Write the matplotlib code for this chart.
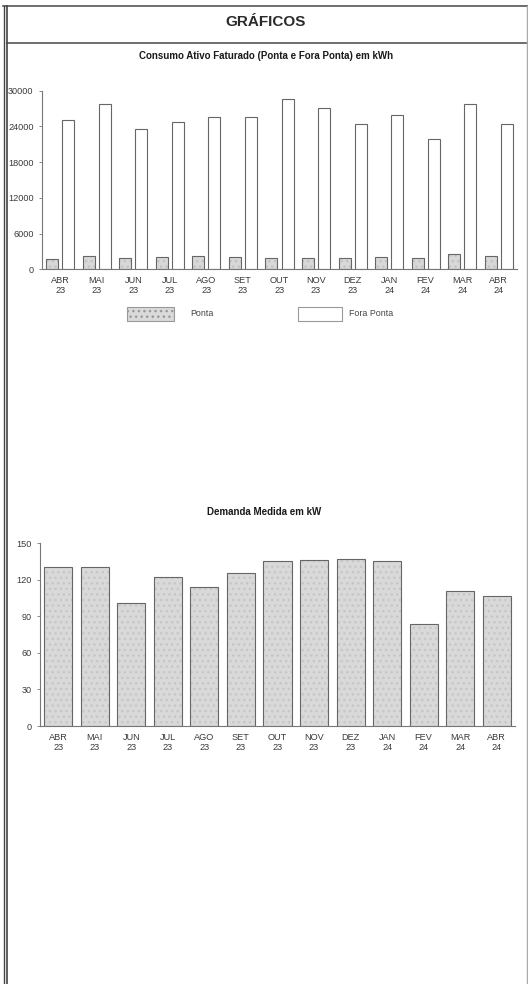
import matplotlib
matplotlib.use("Agg")
import matplotlib.pyplot as plt
from matplotlib.patches import Rectangle
from matplotlib.lines import Line2D
import numpy as np

plt.rcParams['font.family'] = ['Liberation Sans', 'DejaVu Sans']

months = ["ABR\n23", "MAI\n23", "JUN\n23", "JUL\n23", "AGO\n23", "SET\n23", "OUT\n23",
          "NOV\n23", "DEZ\n23", "JAN\n24", "FEV\n24", "MAR\n24", "ABR\n24"]
ponta = [1780, 2290, 1900, 2020, 2240, 2070, 1950, 1950, 1850, 2120, 1900, 2620, 2290]
fora_ponta = [25100, 27700, 23500, 24800, 25650, 25500, 28550, 27150, 24400, 25900, 21850, 27700, 24400]
demanda = [130.8, 130.8, 100.7, 122.6, 114.4, 125.9, 135.7, 136.3, 137.4, 135.7, 83.7, 110.6, 106.7]
ticks_top = [0, 6000, 12000, 18000, 24000, 30000]
ticks_bot = [0, 30, 60, 90, 120, 150]

W, H = 528, 984
fig = plt.figure(figsize=(W / 100, H / 100), dpi=100)

def fx(px):
    return px / W

def fy(py):
    return 1 - py / H

# frame lines
frame_c = '#555555'
fig.add_artist(Line2D([fx(3), fx(528)], [fy(6), fy(6)], color=frame_c, lw=1.2))
fig.add_artist(Line2D([fx(7), fx(528)], [fy(43), fy(43)], color=frame_c, lw=1.2))
fig.add_artist(Line2D([fx(3.5), fx(3.5)], [fy(6), fy(984)], color='#444444', lw=1.0))
fig.add_artist(Line2D([fx(7), fx(7)], [fy(6), fy(984)], color='#444444', lw=1.2))
fig.add_artist(Line2D([fx(526.5), fx(526.5)], [fy(6), fy(984)], color='#aaaaaa', lw=1.0))

fig.text(fx(266), fy(22), "GRÁFICOS", ha='center', va='center', fontsize=11,
         fontweight='bold', color='#2a2a2a')
fig.text(fx(266), fy(56), "Consumo Ativo Faturado (Ponta e Fora Ponta) em kWh", ha='center',
         va='center', fontsize=7, fontweight='bold', color='#1a1a1a')
fig.text(fx(264), fy(512), "Demanda Medida em kW", ha='center', va='center', fontsize=7,
         fontweight='bold', color='#1a1a1a')

x = np.arange(len(months))
axis_c = '#777777'
tick_c = '#3a3a3a'

def style_axes(ax):
    for s in ['top', 'right']:
        ax.spines[s].set_visible(False)
    ax.spines['left'].set_color(axis_c)
    ax.spines['bottom'].set_color(axis_c)
    ax.spines['left'].set_linewidth(0.8)
    ax.spines['bottom'].set_linewidth(0.8)
    ax.tick_params(axis='both', colors=axis_c, labelcolor=tick_c, labelsize=6.6, length=2, width=0.6)
    ax.tick_params(axis='y', pad=4)
    ax.tick_params(axis='x', length=0, pad=5)
    ax.set_xticks(x)
    ax.set_xticklabels(months, linespacing=1.1)
    ax.set_xlim(-0.5, 12.5)

# top chart
ax1 = fig.add_axes([fx(42), fy(269.3), fx(517) - fx(42), fy(90.7) - fy(269.3)])
bw = 0.33
off = 0.22
ax1.bar(x - off, ponta, width=bw, color='#d8d8d8', edgecolor='#c2c2c2', hatch='...', linewidth=0)
ax1.bar(x - off, ponta, width=bw, fill=False, edgecolor='#666666', linewidth=0.8)
ax1.bar(x + off, fora_ponta, width=bw, color='white', edgecolor='#666666', linewidth=0.8)
ax1.set_ylim(0, 30000)
ax1.set_yticks(ticks_top)
ax1.set_yticklabels([str(t) for t in ticks_top])
style_axes(ax1)

# legend (manual)
fig.add_artist(Rectangle((fx(127), fy(321)), fx(174) - fx(127), fy(307) - fy(321),
                         facecolor='#dadada', edgecolor='#999999', lw=0.8, hatch='...'))
fig.text(fx(190), fy(314), "Ponta", ha='left', va='center', fontsize=6.4, color='#444444')
fig.add_artist(Rectangle((fx(298), fy(321)), fx(342) - fx(298), fy(307) - fy(321),
                         facecolor='white', edgecolor='#999999', lw=0.8))
fig.text(fx(349), fy(314), "Fora Ponta", ha='left', va='center', fontsize=6.4, color='#444444')

# bottom chart
ax2 = fig.add_axes([fx(40), fy(726), fx(515) - fx(40), fy(543.3) - fy(726)])
ax2.bar(x, demanda, width=0.77, color='#d9d9d9', edgecolor='#c6c6c6', hatch='...', linewidth=0)
ax2.bar(x, demanda, width=0.77, fill=False, edgecolor='#666666', linewidth=0.8)
ax2.set_ylim(0, 150)
ax2.set_yticks(ticks_bot)
ax2.set_yticklabels([str(t) for t in ticks_bot])
style_axes(ax2)

fig.savefig("out.png", dpi=100)
